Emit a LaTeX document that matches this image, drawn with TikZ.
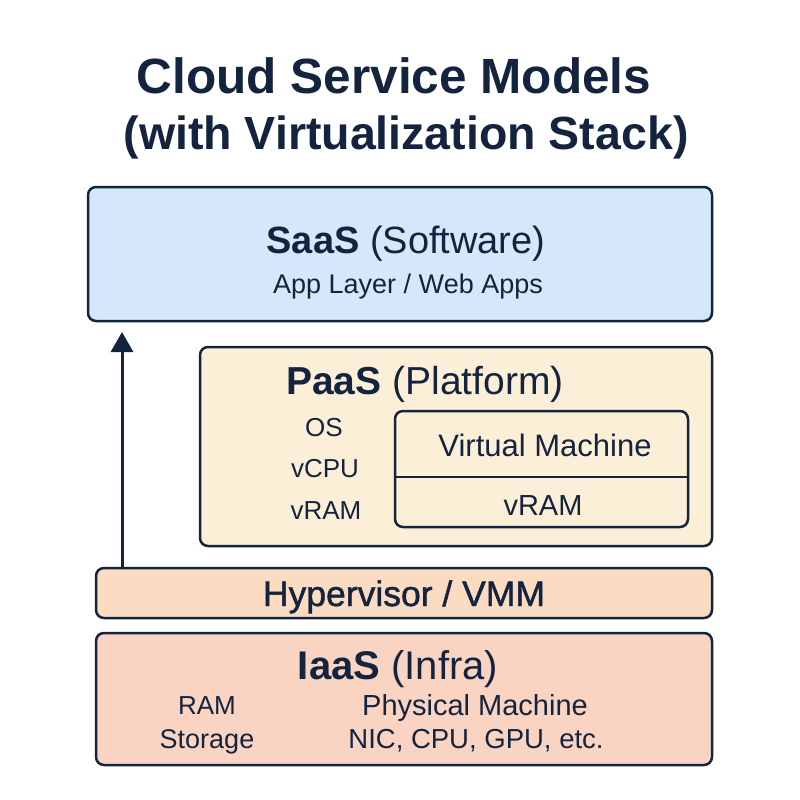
\documentclass[tikz,border=0pt]{standalone}
\usepackage{fontspec}
\setmainfont{Liberation Sans}
\newfontfamily\medfont{Liberation Sans}[FakeBold=1.3]
\usetikzlibrary{arrows.meta}
\definecolor{ink}{HTML}{14243E}
\definecolor{saasfill}{HTML}{D5E8FA}
\definecolor{paasfill}{HTML}{FCEFD8}
\definecolor{hypfill}{HTML}{FBDCC3}
\definecolor{iaasfill}{HTML}{F9D4C3}
\tikzset{
  layer/.style={draw=ink, line width=2.5pt, rounded corners=8pt, inner sep=0pt, outer sep=0pt},
  lbl/.style={text=ink, inner sep=0pt, anchor=base},
}
\begin{document}
\begin{tikzpicture}[x=1pt,y=-1pt]
\useasboundingbox[fill=white] (0,0) rectangle (800,800);
% title
\node[lbl, font=\bfseries\fontsize{49.5}{54}\selectfont] (t1) at (394,93) {Cloud Service Models};
\node[lbl, font=\bfseries\fontsize{46.5}{54}\selectfont] (t2) at (406,149) {(with Virtualization Stack)};
% SaaS
\node[layer, fill=saasfill, minimum width=624pt, minimum height=134pt] (saas) at (400,254) {};
\node[lbl, font=\fontsize{38}{42}\selectfont] (saast) at (406,253.5) {\textbf{SaaS} (Software)};
\node[lbl, font=\fontsize{27}{32}\selectfont] (saass) at (408,293.5) {App Layer / Web Apps};
% PaaS
\node[layer, fill=paasfill, minimum width=512pt, minimum height=199pt] (paas) at (456,446.5) {};
\node[lbl, font=\fontsize{39}{42}\selectfont] (paast) at (425,394) {\textbf{PaaS} (Platform)};
\node[lbl, font=\fontsize{26}{30}\selectfont] (os) at (324,436.5) {OS};
\node[lbl, font=\fontsize{26}{30}\selectfont] (vcpu) at (325,477.5) {vCPU};
\node[lbl, font=\fontsize{26}{30}\selectfont] (vram1) at (326,519.5) {vRAM};
\node[layer, fill=paasfill, minimum width=293pt, minimum height=116pt] (vm) at (541.5,469) {};
\coordinate (dl) at (395,477);
\coordinate (dr) at (688,477);
\draw[ink, line width=2.5pt] (dl) -- (dr);
\node[lbl, font=\fontsize{31}{36}\selectfont] (vmt) at (545,456) {Virtual Machine};
\node[lbl, font=\fontsize{29}{34}\selectfont] (vram2) at (543,515.5) {vRAM};
% Hypervisor
\node[layer, fill=hypfill, minimum width=616pt, minimum height=50pt] (hyp) at (404,593) {};
\node[lbl, font=\medfont\fontsize{35.5}{38}\selectfont] (hypt) at (404,606) {Hypervisor / VMM};
% IaaS
\node[layer, fill=iaasfill, minimum width=616pt, minimum height=132pt] (iaas) at (404,699) {};
\node[lbl, font=\fontsize{40}{44}\selectfont] (iaast) at (398,679.5) {\textbf{IaaS} (Infra)};
\node[lbl, font=\fontsize{26}{30}\selectfont] (ram) at (207,714.5) {RAM};
\node[lbl, font=\fontsize{27}{30}\selectfont] (stor) at (207,748.5) {Storage};
\node[lbl, font=\fontsize{29}{32}\selectfont] (pm) at (475,715.5) {Physical Machine};
\node[lbl, font=\fontsize{27.5}{30}\selectfont] (nic) at (476,748.5) {NIC, CPU, GPU, etc.};
% arrow
\coordinate (atail) at (122,568);
\coordinate (atip) at (122,332);
\draw[ink, line width=3pt, -{Triangle[width=22pt,length=20pt]}] (atail) -- (atip);
\end{tikzpicture}
\end{document}
